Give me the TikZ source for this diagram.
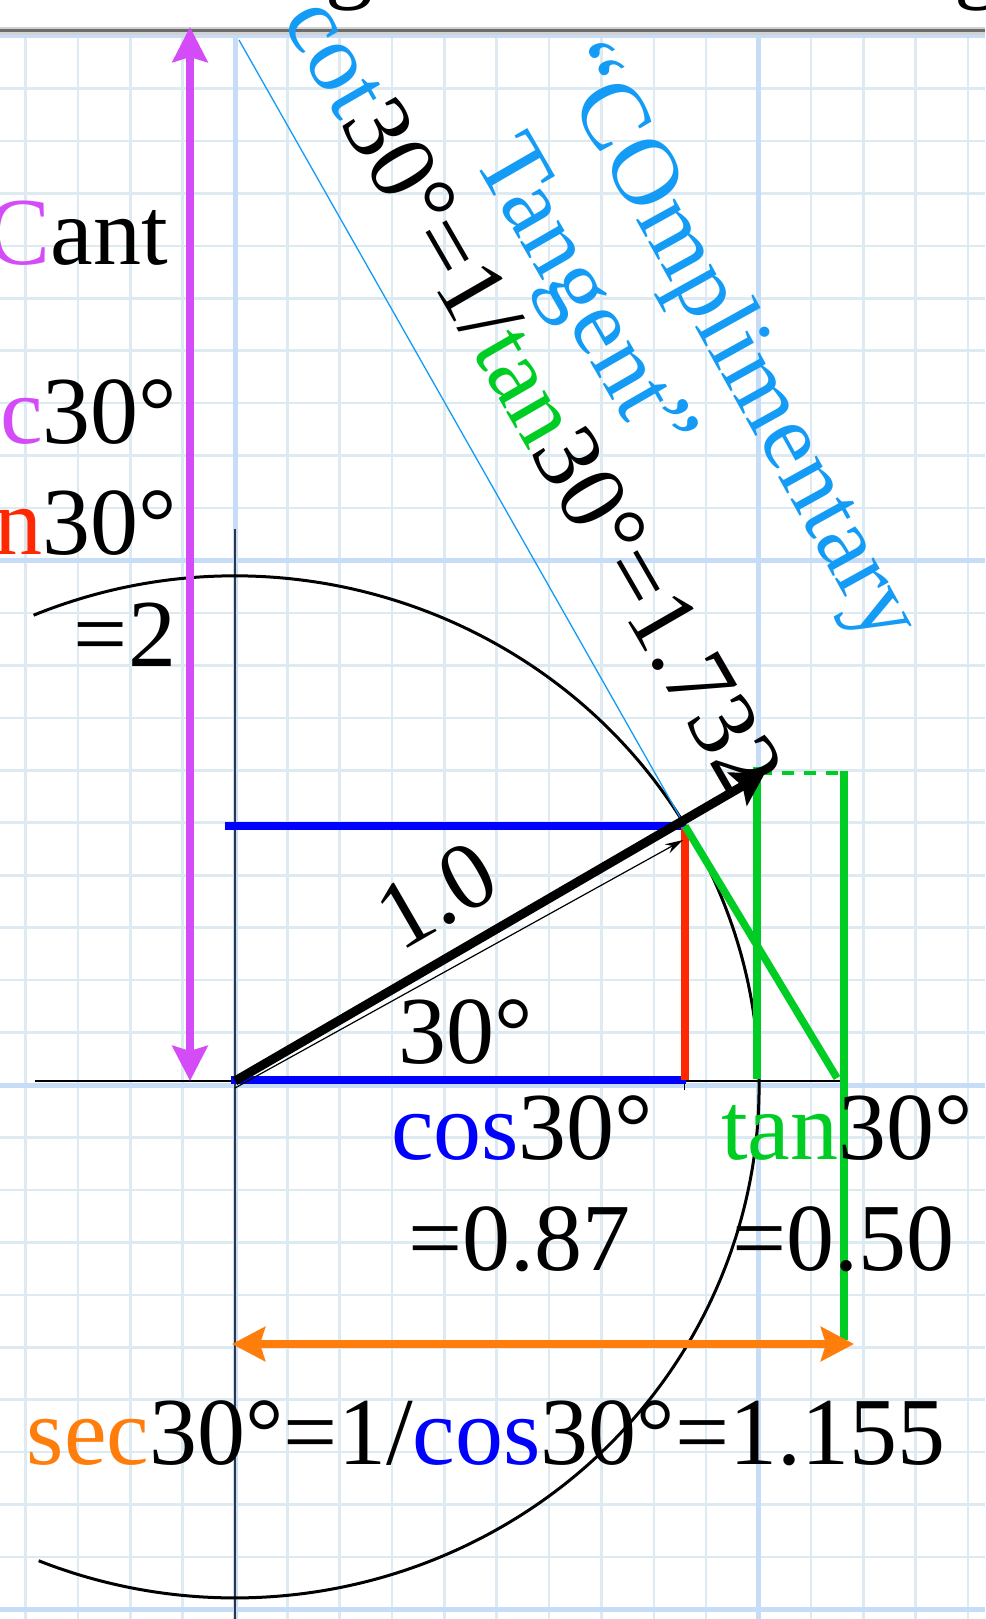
\documentclass[tikz,border=0pt]{standalone}
\usepackage{fontspec}
\setmainfont{Liberation Serif}
\usetikzlibrary{arrows.meta}
\definecolor{mag}{RGB}{212,76,247}
\definecolor{cred}{RGB}{255,40,0}
\definecolor{cblue}{RGB}{0,0,255}
\definecolor{grn}{RGB}{0,205,35}
\definecolor{org}{RGB}{255,125,10}
\definecolor{lblue}{RGB}{20,155,245}
\definecolor{gridminor}{RGB}{222,234,241}
\definecolor{gridmajor}{RGB}{198,220,247}
\definecolor{axisv}{RGB}{45,55,75}
\tikzset{
  lbl/.style={font=\fontsize{96}{110}\selectfont, inner sep=0pt, outer sep=0pt},
  minorgrid/.style={gridminor, line width=2.6pt},
  majorgrid/.style={gridmajor, line width=5pt},
  thickline/.style={line width=7.5pt},
}
\begin{document}
\begin{tikzpicture}[x=1pt,y=1pt]
\useasboundingbox (0,0) rectangle (985,-1619);
\fill[white] (0,0) rectangle (985,-1619);
% grid
\foreach \k in {-4,...,14} {\draw[minorgrid] ({235+52.35*\k},-35) -- ({235+52.35*\k},-1619);}
\foreach \k in {-10,...,20} {\draw[minorgrid] (0,{-(1085-52.45*\k)}) -- (985,{-(1085-52.45*\k)});}
\foreach \k in {0,10} {\draw[majorgrid] ({235+52.35*\k},-35) -- ({235+52.35*\k},-1619);}
\foreach \k in {-10,0,10,20} {\draw[majorgrid] (0,{-(1085-52.45*\k)}) -- (985,{-(1085-52.45*\k)});}
% top band
\fill[white] (0,0) rectangle (985,-27);
\draw[gray!35, line width=8pt] (0,-31) -- (985,-31);
\draw[gray!85!black, line width=3pt] (0,-31) -- (985,-31);
\begin{scope}
\clip (0,0) rectangle (985,-27);
\node[lbl, anchor=base west] (g1) at (325,9) {g};
\node[lbl, anchor=base west] (g2) at (954,9) {g};
\end{scope}
% coordinates
\coordinate (O) at (235,-1081);
\coordinate (P) at (685,-826);
\coordinate (Tip) at (765,-773);
\coordinate (Othin) at (235,-1088);
\coordinate (Pthin) at (683,-840);
\coordinate (T0) at (239,-40);
\coordinate (AxL) at (35,-1081);
\coordinate (AxR) at (842,-1081);
\coordinate (AyT) at (235,-529);
\coordinate (AyB) at (235,-1619);
\coordinate (BT0) at (225,-826);
\coordinate (BB0) at (231,-1080);
\coordinate (BB1) at (686,-1080);
\coordinate (R0) at (685,-827);
\coordinate (R1) at (685,-1080);
\coordinate (G1a) at (757,-767);
\coordinate (G1b) at (757,-1079);
\coordinate (G2a) at (844,-771);
\coordinate (G2b) at (844,-1340);
\coordinate (GDa) at (760,-773);
\coordinate (GDb) at (844,-773);
\coordinate (S) at (837,-1078);
\coordinate (M0) at (190,-1081);
\coordinate (M1) at (190,-27);
\coordinate (Or0) at (232,-1344);
\coordinate (Or1) at (854,-1344);
\coordinate (Tk0) at (684,-1082);
\coordinate (Tk1) at (684,-1090);
\coordinate (ArcS) at (33.6,-615.2);
% axes
\draw[axisv, line width=1.8pt] (AyT) -- (AyB);
\draw[black, line width=2.4pt] (AxL) -- (AxR);
\draw[black, line width=1pt] (Tk0) -- (Tk1);
% circle arc
\draw[black, line width=3pt] (ArcS) arc[start angle=112.6, end angle=-112, x radius=524pt, y radius=511pt];
% tangent thin line
\draw[lblue, line width=1.3pt] (T0) -- (P);
% blue, red, green
\draw[cblue, thickline] (BT0) -- (P);
\draw[cblue, thickline] (BB0) -- (BB1);
\draw[cred, thickline] (R0) -- (R1);
\draw[grn, thickline] (G1a) -- (G1b);
\draw[grn, thickline] (G2a) -- (G2b);
\draw[grn, line width=4pt, dash pattern=on 12pt off 10pt] (GDa) -- (GDb);
\draw[grn, thickline] (P) -- (S);
% arrows
\draw[mag, line width=8pt, {Stealth[length=35pt,width=35pt,inset=5pt]}-{Stealth[length=35pt,width=35pt,inset=5pt]}] (M0) -- (M1);
\draw[org, line width=8pt, {Stealth[length=33pt,width=34pt,inset=5pt]}-{Stealth[length=33pt,width=34pt,inset=5pt]}] (Or0) -- (Or1);
\draw[black, line width=1.2pt, -{Stealth[length=18pt,width=10pt]}] (Othin) -- (Pthin);
\draw[black, line width=9pt, -{Stealth[length=32pt,width=38pt,inset=6pt]}] (O) -- (Tip);
% texts
\node[lbl, anchor=base east] (cant) at (168,-264) {\textcolor{mag}{C}ant};
\node[lbl, anchor=base east] (csc) at (177,-443) {\textcolor{mag}{c}30°};
\node[lbl, anchor=base east] (sinl) at (177,-554) {\textcolor{cred}{n}30°};
\node[lbl, anchor=base east] (eqtwo) at (176,-666) {=2};
\node[lbl, anchor=base, rotate=30] (one) at (452,-922) {1.0};
\node[lbl, anchor=base west] (ang) at (398,-1063) {30°};
\node[lbl, anchor=base west] (cosl) at (391,-1159) {\textcolor{cblue}{cos}30°};
\node[lbl, anchor=base west] (cosv) at (408,-1270) {=0.87};
\node[lbl, anchor=base west] (tanl) at (721,-1159) {\textcolor{grn}{tan}30°};
\node[lbl, anchor=base west] (tanv) at (732,-1270) {=0.50};
\node[lbl, anchor=base west] (secl) at (27,-1464) {\textcolor{org}{sec}30°=1/\textcolor{cblue}{cos}30°=1.155};
\node[lbl, anchor=base, rotate=-60] (cotl) at (506.6,-411.5) {\textcolor{lblue}{cot}30°=1/\textcolor{grn}{tan}30°=1.732};
\node[lbl, anchor=base, rotate=-61] (compl) at (711.7,-356) {\textcolor{lblue}{“COmplimentary}};
\node[lbl, anchor=base, rotate=-60, text=lblue] (tang) at (560,-310) {Tangent”};
\end{tikzpicture}
\end{document}
